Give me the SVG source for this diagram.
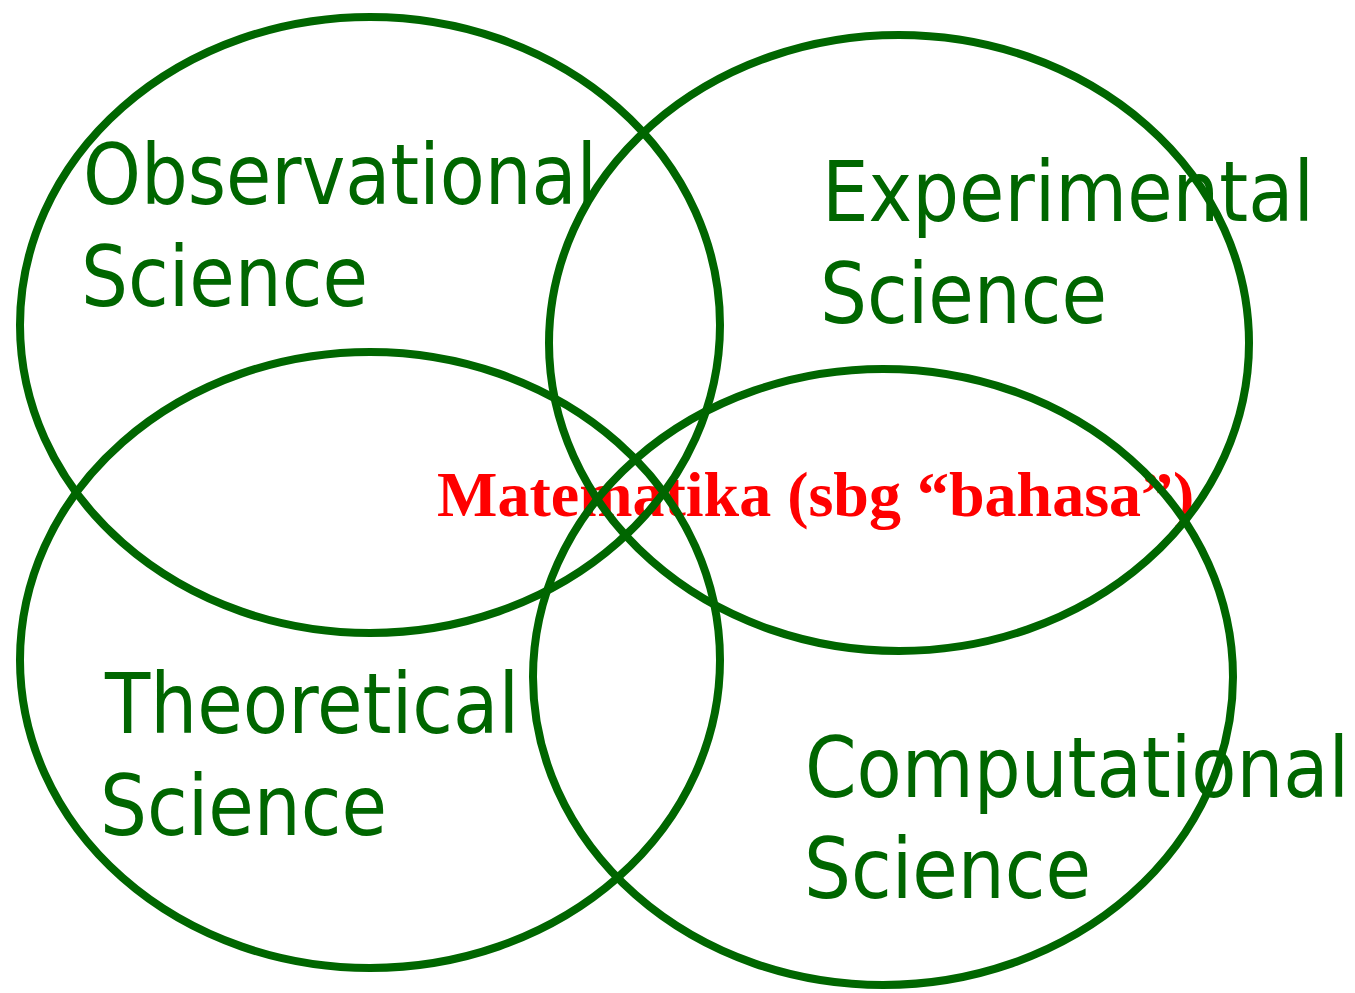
<svg xmlns="http://www.w3.org/2000/svg" width="1355" height="993" viewBox="0 0 1355 993">
<style>
.ring{fill:none;stroke:#006600;stroke-width:8}
.lbl{font-family:"DejaVu Sans","Verdana",sans-serif;font-size:84px;fill:#006600}
.math{font-family:"Liberation Serif","Times New Roman",serif;font-size:64px;font-weight:bold;fill:#FF0000}
</style>
<rect width="1355" height="993" fill="#ffffff"/>
<g id="math-label">
<text class="math" x="437" y="516">Matematika (sbg “bahasa”)</text>
</g>
<g id="observational">
<text class="lbl" x="83" y="204" textLength="514" lengthAdjust="spacingAndGlyphs">Observational</text>
<text class="lbl" x="81" y="306" textLength="287" lengthAdjust="spacingAndGlyphs">Science</text>
</g>
<g id="experimental">
<text class="lbl" x="822" y="221" textLength="492" lengthAdjust="spacingAndGlyphs">Experimental</text>
<text class="lbl" x="820" y="323" textLength="287" lengthAdjust="spacingAndGlyphs">Science</text>
</g>
<g id="theoretical">
<text class="lbl" x="105" y="733" textLength="414" lengthAdjust="spacingAndGlyphs">Theoretical</text>
<text class="lbl" x="100" y="835" textLength="287" lengthAdjust="spacingAndGlyphs">Science</text>
</g>
<g id="computational">
<text class="lbl" x="805" y="797" textLength="544" lengthAdjust="spacingAndGlyphs">Computational</text>
<text class="lbl" x="804" y="898" textLength="287" lengthAdjust="spacingAndGlyphs">Science</text>
</g>
<g id="connectors"/>
<g id="circles">
<ellipse id="c-observational" class="ring" cx="370" cy="325" rx="350" ry="308"/>
<ellipse id="c-experimental" class="ring" cx="899" cy="343" rx="350" ry="308"/>
<ellipse id="c-theoretical" class="ring" cx="370" cy="660" rx="350" ry="308"/>
<ellipse id="c-computational" class="ring" cx="883" cy="677" rx="350" ry="308"/>
</g>
</svg>
